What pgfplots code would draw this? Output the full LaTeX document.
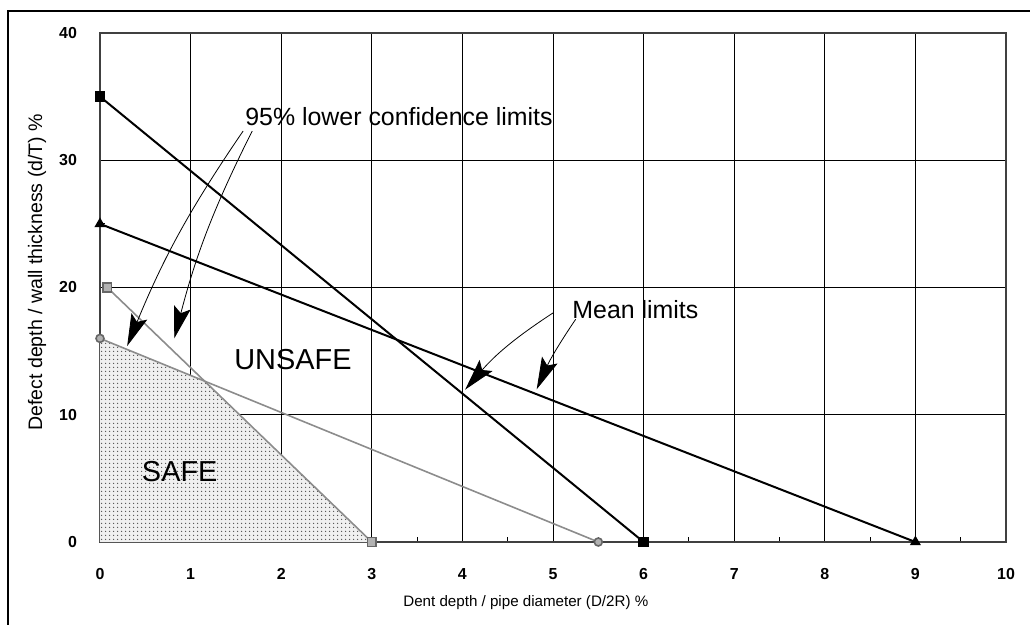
\documentclass[border=0pt]{standalone}
\usepackage{pgfplots}
\pgfplotsset{compat=1.18}
\usepackage{fontspec}
\setmainfont{Liberation Sans}
\usetikzlibrary{arrows.meta,patterns.meta}

\tikzdeclarepattern{
  name=finedots,
  type=uncolored,
  bottom left={(0,0)},
  top right={(2bp,2bp)},
  tile size={(2bp,2bp)},
  code={\fill (1bp,1bp) circle (0.42bp);}
}

\definecolor{limgray}{gray}{0.55}

\begin{document}
\begin{tikzpicture}
\useasboundingbox (-50bp,-41.5bp) rectangle (465bp,271bp);
% outer frame (cut off at right and bottom, as in the scan)
\draw[line width=1bp] (-46bp,-60bp) -- (-46bp,265.5bp) -- (480bp,265.5bp);
\begin{axis}[
  at={(0,0)}, anchor=south west,
  scale only axis,
  width=453bp, height=254.5bp,
  xmin=0, xmax=10, ymin=0, ymax=40,
  xtick={0,1,...,10}, ytick={0,10,20,30,40},
  minor x tick num=1, minor y tick num=1,
  xtick pos=bottom, ytick pos=left,
  tick align=inside,
  major tick length=0pt, minor tick length=2.5bp,
  tick style={black, line width=0.5bp},
  grid=major,
  major grid style={black, line width=0.5bp},
  axis line style={black!75, line width=0.8bp},
  /pgf/number format/assume math mode=true,
  tick label style={font=\bfseries\fontsize{8}{9}\selectfont},
  yticklabel style={xshift=-8bp},
  xticklabel style={yshift=-9.5bp},
  xlabel={Dent depth / pipe diameter (D/2R) \%},
  ylabel={Defect depth / wall thickness (d/T) \%},
  every axis x label/.style={at={(axis description cs:0.47,-0.12)}, anchor=center, font=\fontsize{7.6}{9}\selectfont},
  every axis y label/.style={at={(axis description cs:-0.0695,0.53)}, rotate=90, anchor=center, font=\fontsize{9.8}{11}\selectfont},
  clip=false,
]
% SAFE region under the two 95% lower confidence limits
\addplot[draw=none, fill=gray!12] coordinates {(0,16) (1.154,12.64) (3,0)} \closedcycle;
\addplot[draw=none, pattern=finedots, pattern color=black!70] coordinates {(0,16) (1.154,12.64) (3,0)} \closedcycle;

% mean limits
\addplot[black, line width=1bp, mark=square*, mark size=2.2bp] coordinates {(0,35) (6,0)};
\addplot[black, line width=1bp, mark=triangle*, mark size=2.2bp] coordinates {(0,25) (9,0)};
% 95% lower confidence limits
\addplot[limgray, line width=0.8bp, mark=square*, mark size=2.2bp, mark options={fill=gray!60, draw=black!60}] coordinates {(0.08,20) (3,0)};
\addplot[limgray, line width=0.8bp, mark=*, mark size=2bp, mark options={fill=gray!60, draw=black!60}] coordinates {(0,16) (5.5,0)};

% annotations
\node[anchor=west, font=\fontsize{12.5}{14}\selectfont, inner sep=0pt] at (axis cs:1.6,33.4) {95\% lower confidence limits};
\node[anchor=west, font=\fontsize{12.5}{14}\selectfont, inner sep=0pt] at (axis cs:5.21,18.3) {Mean limits};
\node[font=\fontsize{14.5}{16}\selectfont] at (axis cs:2.13,14.3) {UNSAFE};
\node[font=\fontsize{14.5}{16}\selectfont] at (axis cs:0.88,5.5) {SAFE};

\tikzset{annarrow/.style={line width=0.4bp, -{Stealth[length=16bp, width=8.5bp, inset=3bp]}}}
\draw[annarrow] (axis cs:1.58,32.3) to[bend right=6] (axis cs:0.3,15.4);
\draw[annarrow] (axis cs:1.68,32.3) to[bend right=6] (axis cs:0.82,16.0);
\draw[annarrow] (axis cs:5.0,18.0) to[bend right=8] (axis cs:4.03,11.97);
\draw[annarrow] (axis cs:5.25,17.5) to[bend right=5] (axis cs:4.82,12.0);
\end{axis}
\end{tikzpicture}
\end{document}
